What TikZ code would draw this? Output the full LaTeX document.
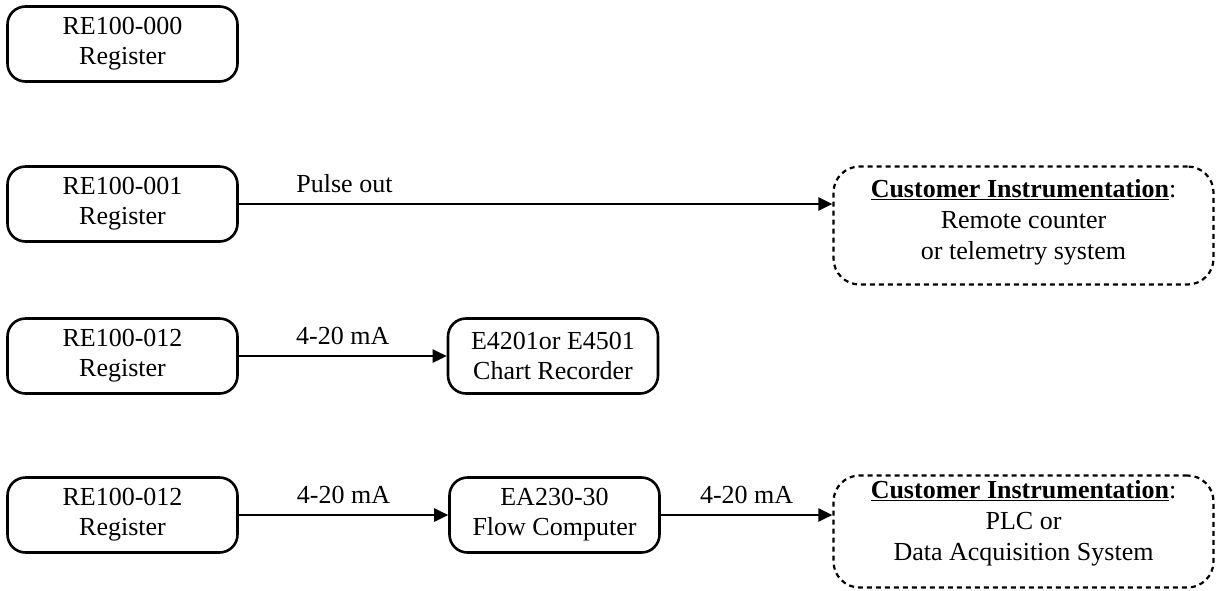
\documentclass[tikz,border=0pt]{standalone}
\usepackage{fontspec}
\setmainfont{Liberation Serif}
\usetikzlibrary{arrows.meta}
\begin{document}
\begin{tikzpicture}[x=1pt,y=-1pt]
\tikzset{
  unit/.style={draw, line width=2.6pt, rounded corners=18pt, minimum height=75pt,
    align=center, inner sep=0pt, font=\fontsize{26}{30}\selectfont},
  regbox/.style={unit, minimum width=230pt},
  devbox/.style={unit, minimum width=210pt},
  custbox/.style={draw, line width=2.2pt, dash pattern=on 5pt off 4pt,
    rounded corners=26pt, minimum width=380pt, inner sep=0pt},
  custtext/.style={align=center, inner sep=0pt, font=\fontsize{26}{31}\selectfont},
  link/.style={line width=2.6pt, -{Triangle[length=14pt,width=13pt]}},
  lbl/.style={anchor=base, yshift=12pt, inner sep=0pt, font=\fontsize{26}{31}\selectfont}
}
\useasboundingbox (0,0) rectangle (1217,590);

% register units
\node[regbox] (r0) at (122.5,44)  {RE100-000\\Register};
\node[regbox] (r1) at (122.5,204) {RE100-001\\Register};
\node[regbox] (r2) at (122.5,356) {RE100-012\\Register};
\node[regbox] (r3) at (122.5,515) {RE100-012\\Register};

% downstream devices
\node[devbox] (chart) at (553,356)   {E4201or E4501\\Chart Recorder};
\node[devbox] (flow)  at (554.5,515) {EA230-30\\Flow Computer};

% customer-side equipment
\node[custbox, minimum height=118pt] (ci1) at (1023.5,225.5) {};
\node[custtext] (ci1t) at (1023.5,222)
  {\underline{\textbf{Customer Instrumentation}}:\\Remote counter\\or telemetry system};
\node[custbox, minimum height=112pt] (ci2) at (1023.5,531.5) {};
\node[custtext] (ci2t) at (1023.5,523)
  {\underline{\textbf{Customer Instrumentation}}:\\PLC or\\Data Acquisition System};

% signal connections
\draw[link] (r1.east) -- (r1.east -| ci1.west) node[lbl, pos=0.178] {Pulse out};
\draw[link] (r2.east) -- (chart.west) node[lbl, midway] {4-20 mA};
\draw[link] (r3.east) -- (flow.west) node[lbl, midway] {4-20 mA};
\draw[link] (flow.east) -- (flow.east -| ci2.west) node[lbl, midway] {4-20 mA};
\end{tikzpicture}
\end{document}
